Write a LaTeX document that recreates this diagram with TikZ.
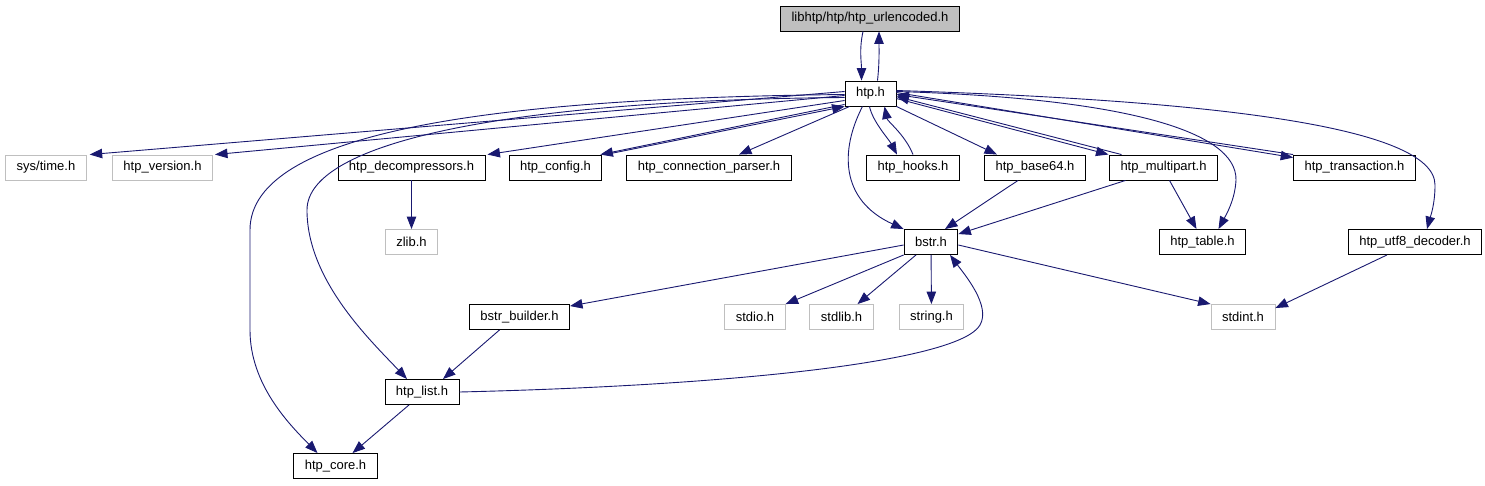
\documentclass[tikz,border=0pt]{standalone}
\usepackage{fontspec}
\setsansfont{Liberation Sans}
\usetikzlibrary{arrows.meta}
\definecolor{edge}{HTML}{191970}
\definecolor{sysgray}{HTML}{BFBFBF}

\begin{document}
\begin{tikzpicture}[x=1pt,y=-1pt,font=\sffamily\fontsize{13}{15}\selectfont,
hdr/.style={draw=black,line width=0.9pt,inner xsep=11pt,inner ysep=0pt,minimum height=25pt},
syshdr/.style={hdr,draw=sysgray},
rootfile/.style={hdr,fill=sysgray},
inc/.style={draw=edge,line width=0.9pt,-{Triangle[length=12.5pt,width=9.5pt]},edge}]
  \useasboundingbox (0,0) rectangle (1485,485);
  \node[rootfile] (urlenc) at (870,18.5) {libhtp/htp/htp\_urlencoded.h};
  \node[hdr] (htp) at (870.5,93.5) {htp.h};
  \node[syshdr] (systime) at (46,167.5) {sys/time.h};
  \node[syshdr] (version) at (162.5,167.5) {htp\_version.h};
  \node[hdr] (decomp) at (411.5,167.5) {htp\_decompressors.h};
  \node[hdr] (config) at (555.5,167.5) {htp\_config.h};
  \node[hdr] (connp) at (709,167.5) {htp\_connection\_parser.h};
  \node[hdr] (hooks) at (913,167.5) {htp\_hooks.h};
  \node[hdr] (base64) at (1035,167.5) {htp\_base64.h};
  \node[hdr] (multipart) at (1163.5,167.5) {htp\_multipart.h};
  \node[hdr] (transaction) at (1354.5,167.5) {htp\_transaction.h};
  \node[syshdr] (zlib) at (411.5,242) {zlib.h};
  \node[hdr] (bstr) at (931,242) {bstr.h};
  \node[hdr] (table) at (1202.5,242) {htp\_table.h};
  \node[hdr] (utf8) at (1415,242) {htp\_utf8\_decoder.h};
  \node[hdr] (builder) at (519.5,317) {bstr\_builder.h};
  \node[syshdr] (stdio) at (755,317) {stdio.h};
  \node[syshdr] (stdlib) at (841.5,317) {stdlib.h};
  \node[syshdr] (string) at (931.5,317) {string.h};
  \node[syshdr] (stdint) at (1243,317) {stdint.h};
  \node[hdr] (list) at (422,392) {htp\_list.h};
  \node[hdr] (core) at (335.5,466) {htp\_core.h};

  \draw[inc] ([xshift=-7pt]urlenc.south) .. controls +(-4,18) and +(0,-18) .. ([xshift=-9pt]htp.north);
  \draw[inc] ([xshift=7pt]htp.north) .. controls +(2,-18) and +(0,18) .. ([xshift=9pt]urlenc.south);
  \draw[inc] ([yshift=2pt]htp.west) -- ([xshift=3pt]systime.north east);
  \draw[inc] ([yshift=-2pt]htp.west) -- ([xshift=2pt]version.north east);
  \draw[inc] ([yshift=-1pt]htp.west) .. controls (500,98) and (250,130) .. (250,230) -- (250,330)
    .. controls (250,385) and (290,425) .. ([xshift=-18pt]core.north);
  \draw[inc] ([yshift=-4pt]htp.west) .. controls (520,100) and (307,140) .. (307,210)
    .. controls (307,280) and (370,340) .. ([xshift=-15pt]list.north);
  \draw[inc] ([yshift=-7pt]htp.west) -- ([xshift=2pt]decomp.north east);
  \draw[inc] ([yshift=2pt]htp.south west) -- ([xshift=-2pt]config.north east);
  \draw[inc] ([xshift=3pt]config.north east) -- (htp.south west);
  \draw[inc] ([xshift=5pt]htp.south west) -- ([xshift=30pt]connp.north);
  \draw[inc] ([xshift=-1pt]htp.south) .. controls +(3,15) and +(-8,-15) .. ([xshift=-16pt]hooks.north);
  \draw[inc] (hooks.north) .. controls +(-8,-20) and +(3,15) .. ([xshift=14pt]htp.south);
  \draw[inc] ([xshift=-8pt]htp.south) .. controls (840,150) and (840,200) .. (bstr.north west);
  \draw[inc] (htp.south east) -- ([xshift=-38pt]base64.north);
  \draw[inc] ([yshift=-5pt]htp.east) -- ([xshift=-55pt]multipart.north);
  \draw[inc] ([xshift=-42pt]multipart.north) -- ([yshift=-3pt]htp.east);
  \draw[inc] ([yshift=1pt]htp.east) -- ([yshift=-3pt]transaction.north west);
  \draw[inc] (transaction.north west) -- ([yshift=-1pt]htp.east);
  \draw[inc] ([yshift=2pt]htp.east) .. controls (1120,98) and (1237,130) .. (1236,180)
    .. controls (1235,200) and (1226,215) .. ([xshift=16pt]table.north);
  \draw[inc] ([yshift=3pt]htp.east) .. controls (1200,100) and (1435,125) .. (1435,185)
    .. controls (1435,205) and (1430,218) .. ([xshift=12pt]utf8.north);
  \draw[inc] (decomp) -- (zlib);
  \draw[inc] ([xshift=-17pt]base64.south) -- ([xshift=14pt]bstr.north);
  \draw[inc] ([xshift=-38pt]multipart.south) -- ([yshift=-5pt]bstr.north east);
  \draw[inc] ([xshift=6pt]multipart.south) -- ([xshift=-6pt]table.north);
  \draw[inc] ([xshift=-28pt]utf8.south) -- ([yshift=-4pt]stdint.north east);
  \draw[inc] ([yshift=-3pt]bstr.west) -- ([yshift=-2pt]builder.north east);
  \draw[inc] (bstr.south west) -- (stdio.north east);
  \draw[inc] ([xshift=-15pt]bstr.south) -- ([xshift=16pt]stdlib.north);
  \draw[inc] (bstr) -- (string);
  \draw[inc] ([yshift=-3pt]bstr.east) -- (stdint.north west);
  \draw[inc] (list.east) .. controls (750,385) and (960,360) .. (980,325)
    .. controls (991,306) and (965,275) .. ([xshift=19pt]bstr.south);
  \draw[inc] ([xshift=-20pt]builder.south) -- ([xshift=21pt]list.north);
  \draw[inc] ([xshift=-13pt]list.south) -- ([xshift=17pt]core.north);
\end{tikzpicture}
\end{document}
